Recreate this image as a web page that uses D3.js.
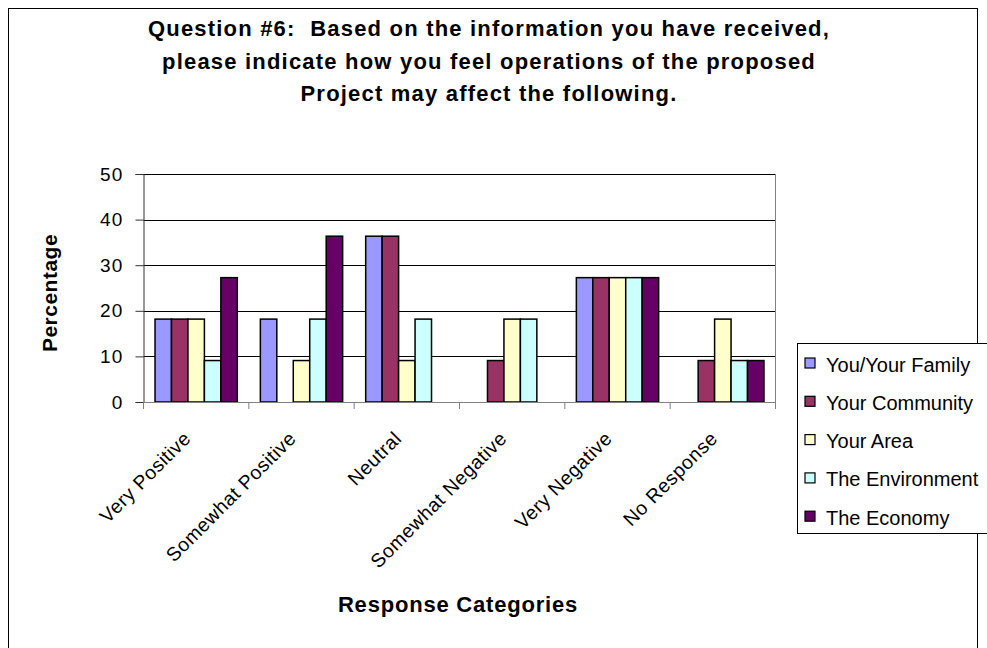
<!DOCTYPE html>
<html><head><meta charset="utf-8">
<script src="https://cdn.jsdelivr.net/npm/d3@7"></script>
<style>body{margin:0;background:#fff}svg{display:block}text{font-family:"Liberation Sans",Arial,sans-serif;white-space:pre}</style>
</head><body>
<svg id="c" width="987" height="648"></svg>
<script>
const categories = ["Very Positive","Somewhat Positive","Neutral","Somewhat Negative","Very Negative","No Response"];
const seriesNames = ["You/Your Family","Your Community","Your Area","The Environment","The Economy"];
const seriesColors = ["#9999FF","#993366","#FFFFCC","#CCFFFF","#660066"];
const youFamily   = [18.18,18.18,36.36,0,27.27,0];
const community   = [18.18,0,36.36,9.09,27.27,9.09];
const area        = [18.18,9.09,9.09,18.18,27.27,18.18];
const environment = [9.09,18.18,18.18,18.18,27.27,9.09];
const economy     = [27.27,36.36,0,0,27.27,9.09];
const yTicks = [0,10,20,30,40,50];
const titleLines = ["Question #6:  Based on the information you have received,","please indicate how you feel operations of the proposed","Project may affect the following."];

const seriesValues = [youFamily, community, area, environment, economy];
const svg = d3.select("#c");
svg.append("rect").attr("x",8.5).attr("y",8.5).attr("width",969).attr("height",660).attr("fill","#fff").attr("stroke","#000");

const L=143.5, R=775.5, T=174, B=402;
const x = d3.scaleBand().domain(categories).range([L,R]).paddingInner(0).paddingOuter(0);
const bw = x.bandwidth()/6.4;
const xi = d3.scaleBand().domain(seriesNames).range([(x.bandwidth()-5*bw)/2,(x.bandwidth()+5*bw)/2]);
const y = d3.scaleLinear().domain([0,50]).range([B,T]);

// gridlines
svg.append("g").selectAll("line").data(yTicks.filter(d=>d>0)).join("line")
  .attr("x1",L).attr("x2",R).attr("y1",d=>Math.round(y(d))+0.5).attr("y2",d=>Math.round(y(d))+0.5)
  .attr("stroke","#000").attr("stroke-width",1);
svg.append("line").attr("x1",R).attr("x2",R).attr("y1",Math.round(y(50))+0.5).attr("y2",B).attr("stroke","#808080");

// bars
const data = [];
categories.forEach((c,i)=>seriesNames.forEach((s,j)=>data.push({c,s,v:seriesValues[j][i],col:seriesColors[j]})));
svg.append("g").selectAll("rect").data(data.filter(d=>d.v>0)).join("rect")
  .attr("x",d=>x(d.c)+xi(d.s)).attr("width",xi.bandwidth())
  .attr("y",d=>y(d.v)).attr("height",d=>B-y(d.v))
  .attr("fill",d=>d.col).attr("stroke","#000").attr("stroke-width",1.5);

// y axis
const ya = svg.append("g").attr("transform",`translate(${L},0)`)
  .call(d3.axisLeft(y).tickValues(yTicks).tickSize(8).tickPadding(12));
ya.select("path").attr("stroke","#333");
ya.selectAll("line").attr("stroke","#333");
ya.selectAll("text").attr("font-size",19).attr("letter-spacing",1.2).attr("fill","#000")
  .attr("font-family","Liberation Sans, Arial, sans-serif");

// x axis
const xa = svg.append("g").attr("transform",`translate(0,${B})`);
xa.append("line").attr("x1",L).attr("x2",R).attr("y1",0.5).attr("y2",0.5).attr("stroke","#808080");
xa.selectAll("line.t").data(d3.range(categories.length+1)).join("line").attr("class","t")
  .attr("x1",i=>L+i*x.bandwidth()).attr("x2",i=>L+i*x.bandwidth()).attr("y1",0).attr("y2",7).attr("stroke","#808080");
xa.selectAll("text").data(categories).join("text")
  .attr("transform",d=>`translate(${x(d)+x.bandwidth()/2-9},${33}) rotate(-45)`)
  .attr("text-anchor","end").attr("font-size",19.5).attr("letter-spacing",0.5).attr("dy","0.35em").text(d=>d);

// titles
svg.append("g").selectAll("text").data(titleLines).join("text")
  .attr("x",489).attr("y",(d,i)=>36+i*32.5).attr("text-anchor","middle")
  .attr("font-size",22).attr("letter-spacing",1.2).attr("font-weight","bold").text(d=>d);
svg.append("text").attr("x",458).attr("y",612).attr("text-anchor","middle")
  .attr("font-size",22).attr("letter-spacing",0.8).attr("font-weight","bold").text("Response Categories");
svg.append("text").attr("transform","translate(57,293) rotate(-90)").attr("text-anchor","middle")
  .attr("font-size",21).attr("letter-spacing",0.5).attr("font-weight","bold").text("Percentage");

// legend
const lg = svg.append("g");
lg.append("rect").attr("x",797.5).attr("y",343.5).attr("width",200).attr("height",190).attr("fill","#fff").attr("stroke","#000");
const items = lg.selectAll("g").data(seriesNames).join("g").attr("transform",(d,i)=>`translate(0,${363+i*38.3})`);
items.append("rect").attr("x",805).attr("y",-5).attr("width",10).attr("height",10)
  .attr("fill",(d,i)=>seriesColors[i]).attr("stroke","#000").attr("stroke-width",1.2);
items.append("text").attr("x",826).attr("y",8.5).attr("font-size",20).attr("letter-spacing",0).text(d=>d);
</script>
</body></html>
